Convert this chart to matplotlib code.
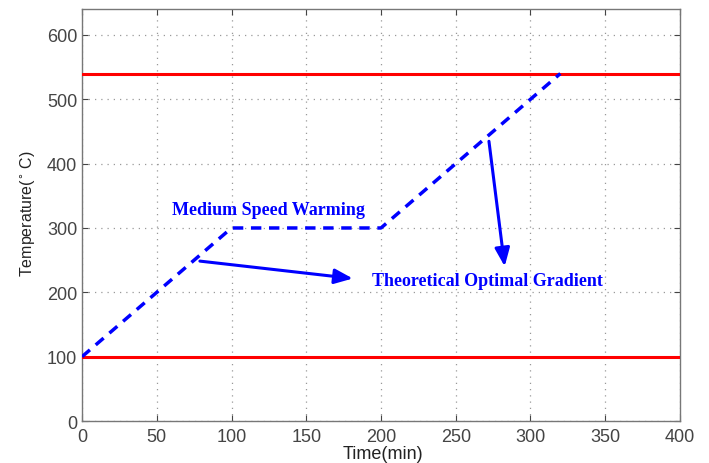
import matplotlib
matplotlib.use("Agg")
import matplotlib.pyplot as plt

time_pts = [0, 100, 200, 320]
temp_pts = [100, 300, 300, 540]
lower_limit = 100
upper_limit = 540
x_ticks = [0, 50, 100, 150, 200, 250, 300, 350, 400]
y_ticks = [0, 100, 200, 300, 400, 500, 600]

fig = plt.figure(figsize=(7.09, 4.64), dpi=100)
ax = fig.add_axes([0.1157, 0.0905, 0.8433, 0.8875])
ax.axhline(upper_limit, color='#ff0000', lw=2.2, zorder=3)
ax.axhline(lower_limit, color='#ff0000', lw=2.2, zorder=3)
ax.plot(time_pts, temp_pts, color='#0000ff', lw=2.5, linestyle=(0, (3, 2.2)), zorder=4)

ax.set_xlim(0, 400)
ax.set_ylim(0, 640)
ax.set_xticks(x_ticks)
ax.set_yticks(y_ticks)
ax.grid(True, linestyle=(0, (1, 4)), color='#999999', lw=0.9)
for s in ax.spines.values():
    s.set_color('#777777')
    s.set_linewidth(1.0)
ax.tick_params(direction='in', colors='#444444', labelsize=13, length=4, top=True, right=True,
               labeltop=False, labelright=False)
ax.tick_params(axis='x', pad=5)
for lab in ax.get_xticklabels() + ax.get_yticklabels():
    lab.set_family('Liberation Sans')
ax.set_xlabel('Time(min)', family='Liberation Sans', fontsize=13, color='#222222')
ax.set_ylabel(r'Temperature($^{\circ}$ C)', family='Liberation Sans', fontsize=11.5, color='#222222')
ax.xaxis.set_label_coords(0.503, -0.058)
ax.yaxis.set_label_coords(-0.076, 0.505)

tfont = dict(family='Liberation Serif', fontweight='bold', fontsize=13, color='#0000ff')
ax.text(125, 328, 'Medium Speed Warming', ha='center', va='center', **tfont)
ax.text(271, 218, 'Theoretical Optimal Gradient', ha='center', va='center', **tfont)
ax.annotate('', xy=(183, 221), xytext=(77, 249),
            arrowprops=dict(arrowstyle='-|>,head_length=1.1,head_width=0.45', color='#0000ff', lw=2.2))
ax.annotate('', xy=(283, 236), xytext=(272, 439),
            arrowprops=dict(arrowstyle='-|>,head_length=1.1,head_width=0.45', color='#0000ff', lw=2.2))

fig.savefig('out.png', dpi=100, facecolor='white')
